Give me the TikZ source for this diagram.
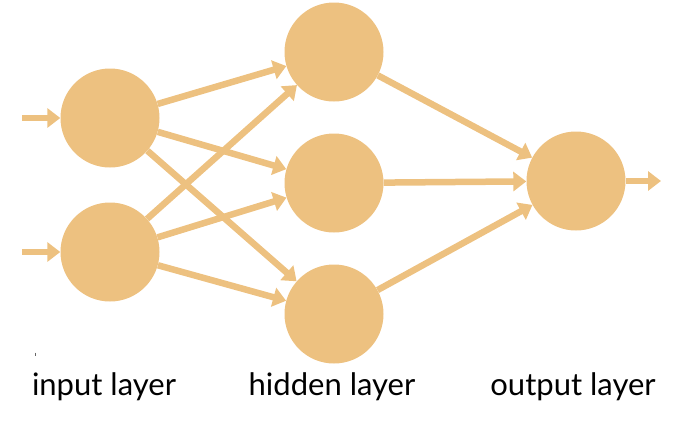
\documentclass[tikz,border=0pt]{standalone}
\usepackage{fontspec}
\setmainfont{Lato}
\usetikzlibrary{arrows.meta}
\definecolor{neuron}{RGB}{237,193,128}
\begin{document}
\begin{tikzpicture}[x=1pt,y=-1pt,
  neur/.style={circle,fill=neuron,draw=none,minimum size=99pt,inner sep=0pt},
  conn/.style={draw=neuron,line width=6.5pt,-{Triangle[length=13pt,width=19pt]}},
  lab/.style={anchor=base,font=\fontsize{31}{34}\selectfont,text=black}]
\useasboundingbox (0,0) rectangle (696,426);
\node[neur] (i1) at (110,118) {};
\node[neur] (i2) at (110,252) {};
\node[neur] (h1) at (334,52) {};
\node[neur] (h2) at (334,183) {};
\node[neur] (h3) at (334,314) {};
\node[neur] (o) at (576,181) {};
\coordinate (s1) at (22,118);
\coordinate (s2) at (22,252);
\coordinate (e) at (661,181);
\draw[conn] (s1) -- (i1);
\draw[conn] (s2) -- (i2);
\foreach \a in {i1,i2}{\foreach \b in {h1,h2,h3}{\draw[conn] (\a) -- (\b);}}
\foreach \b in {h1,h2,h3}{\draw[conn] (\b) -- (o);}
\draw[conn] (o) -- (e);
\node[lab] (l1) at (104,395) {input layer};
\node[lab] (l2) at (332,395) {hidden layer};
\node[lab] (l3) at (573,395) {output layer};
\draw[black!60,line width=0.6pt] (35,352.5) -- (35,356);
\end{tikzpicture}
\end{document}
